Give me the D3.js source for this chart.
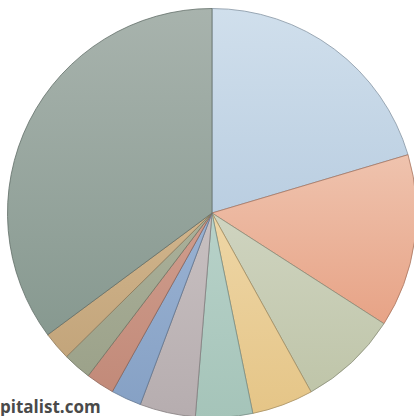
<!DOCTYPE html>
<html>
<head>
<meta charset="utf-8">
<script src="https://cdn.jsdelivr.net/npm/d3@7/dist/d3.min.js"></script>
<style>
  html, body { margin: 0; padding: 0; background: #fff; overflow: hidden; }
  svg { display: block; }
</style>
</head>
<body>
<svg id="chart" width="414" height="416"></svg>
<script>
// Slice categories, clockwise from 12 o'clock
const categories = ["A", "B", "C", "D", "E", "F", "G", "H", "I", "J", "K"];
// Share of total (%)
const values = [20.4, 13.7, 7.85, 4.85, 4.5, 4.4, 2.4, 2.25, 2.25, 2.25, 35.15];
// Fill gradient stops per slice: [top, bottom]
const palette = [
  ["#d0dfec", "#bacee1"],
  ["#efc3ae", "#e7a386"],
  ["#cfd4c0", "#bfc5a9"],
  ["#eed6a6", "#e5c587"],
  ["#b8d2c9", "#a5c4b9"],
  ["#c8c0c1", "#b6adaf"],
  ["#9ab2d2", "#86a1c5"],
  ["#cf9d8d", "#c28a79"],
  ["#aab09a", "#9ca28a"],
  ["#d0b48c", "#c3a57b"],
  ["#a8b3ad", "#879990"]
];
const sourceText = "pitalist.com";

const svg = d3.select("#chart");
const cx = 212, cy = 213, radius = 204.5;

// One vertical gradient per slice, spanning the slice's own bounding box
const defs = svg.append("defs");
palette.forEach((p, i) => {
  const g = defs.append("linearGradient")
    .attr("id", "grad" + i)
    .attr("x1", 0).attr("y1", 0)
    .attr("x2", 0).attr("y2", 1);
  g.append("stop").attr("offset", "0%").attr("stop-color", p[0]);
  g.append("stop").attr("offset", "100%").attr("stop-color", p[1]);
});

const data = categories.map((c, i) => ({ category: c, value: values[i], idx: i }));

const pie = d3.pie()
  .sort(null)
  .value(d => d.value)
  .startAngle(0)
  .endAngle(2 * Math.PI);

const arc = d3.arc().innerRadius(0).outerRadius(radius);

const g = svg.append("g").attr("transform", `translate(${cx},${cy})`);

g.selectAll("path.slice")
  .data(pie(data))
  .join("path")
  .attr("class", "slice")
  .attr("d", arc)
  .attr("fill", d => `url(#grad${d.data.idx})`)
  .attr("stroke", d => d3.color(palette[d.data.idx][1]).darker(0.9))
  .attr("stroke-width", 0.8)
  .attr("stroke-linejoin", "round");

svg.append("text")
  .attr("x", 0)
  .attr("y", 412.5)
  .attr("font-family", "'Open Sans', sans-serif")
  .attr("font-weight", 700)
  .attr("font-size", 17)
  .attr("fill", "#4a4a4a")
  .text(sourceText);
</script>
</body>
</html>
